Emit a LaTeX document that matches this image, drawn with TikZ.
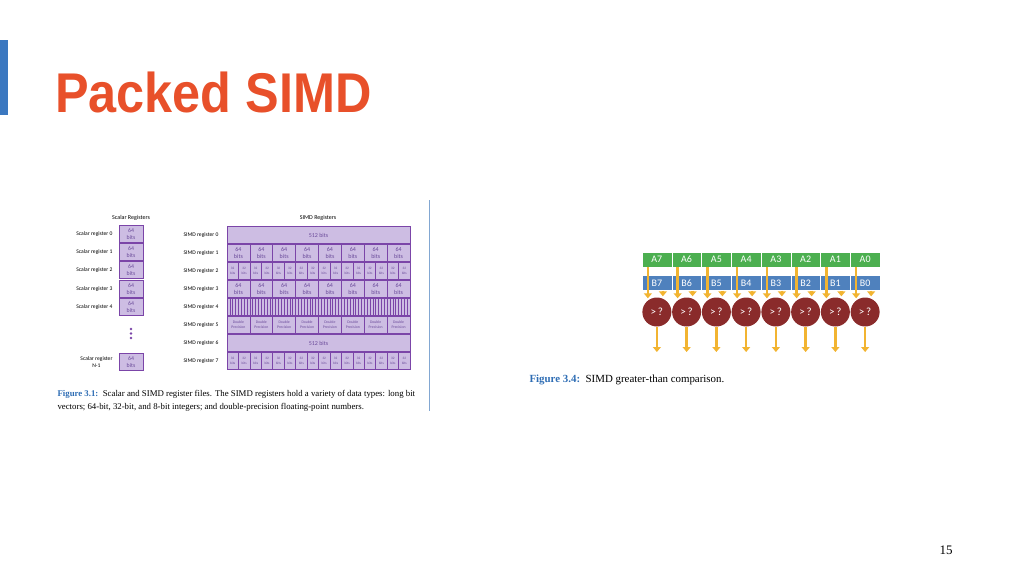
\documentclass[tikz,border=0pt]{standalone}
\usepackage{fontspec}
\setmainfont{Liberation Serif}
\newfontfamily\titlefont{Liberation Sans}
\newfontfamily\lab{Carlito}
\usetikzlibrary{arrows.meta}
\definecolor{ttl}{HTML}{E8502A}
\definecolor{bar}{HTML}{3B78C0}
\definecolor{pfill}{HTML}{CDBDE3}
\definecolor{pline}{HTML}{7B45A8}
\definecolor{ptext}{HTML}{6A4A9A}
\definecolor{agreen}{HTML}{4CAF50}
\definecolor{bblue}{HTML}{4F81BD}
\definecolor{cred}{HTML}{8A2B2B}
\definecolor{gold}{HTML}{F2B431}
\definecolor{capblue}{HTML}{2E6DB4}
\begin{document}
\begin{tikzpicture}[x=1pt,y=-1pt,
  reglab/.style={font=\lab\fontsize{5.6}{6.4}\selectfont,anchor=east,align=center},
  cell/.style={draw=pline,line width=0.6pt,fill=pfill,inner sep=0,outer sep=0,text=ptext,align=center,minimum height=17},
  acell/.style={draw=white,line width=0.4pt,fill=agreen,text=white,minimum width=29.75,minimum height=15,inner sep=0,font=\lab\fontsize{10}{10}\selectfont},
  bcell/.style={acell,fill=bblue},
  cmp/.style={circle,fill=cred,text=white,minimum size=29,inner sep=0,font=\lab\fontsize{11}{11}\selectfont},
  garrow/.style={draw=gold,line width=2.6pt,-{Triangle[length=5pt,width=8pt]}}]
\useasboundingbox (0,0) rectangle (1024,576);
\fill[bar] (0,40) rectangle (8,115);
\node[anchor=base west,text=ttl,font=\titlefont\bfseries\fontsize{56}{60}\selectfont,xscale=0.9,inner sep=0] (title) at (55,112) {Packed SIMD};
\node[font=\fontsize{13}{13}\selectfont] (pg) at (946,550) {15};
% left figure
\node[font=\lab\fontsize{6}{7}\selectfont] (st) at (131,218) {Scalar Registers};
\node[font=\lab\fontsize{6}{7}\selectfont] (mt) at (318,218) {SIMD Registers};
\foreach \i/\y in {0/234,1/252,2/270,3/289,4/307}{
  \node[reglab] (sl\i) at (116,\y) {Scalar register \i};
  \node[cell,minimum width=24,font=\lab\fontsize{5.8}{6.2}\selectfont] (sc\i) at (131,\y) {64\\bits};
}
\foreach \y in {329,333.5,338} \fill[pline] (131,\y) circle (1.3);
\node[reglab] (sln) at (116,362) {Scalar register\\N-1};
\node[cell,minimum width=24,font=\lab\fontsize{5.8}{6.2}\selectfont] (scn) at (131,362) {64\\bits};
\foreach \i/\y in {0/235,1/253,2/271,3/289,4/307,5/325,6/343,7/361}
  \node[reglab] (ml\i) at (222,\y) {SIMD register \i};
\node[cell,minimum width=183,font=\lab\fontsize{6}{7}\selectfont] (r0) at (318.5,235) {512 bits};
\node[cell,minimum width=183,font=\lab\fontsize{6}{7}\selectfont] (r6) at (318.5,343) {512 bits};
\foreach \k in {0,...,7}{
  \node[cell,minimum width=22.875,font=\lab\fontsize{6}{6.6}\selectfont] (ra\k) at ({227+22.875*(\k+0.5)},253) {64\\bits};
  \node[cell,minimum width=22.875,font=\lab\fontsize{6}{6.6}\selectfont] (rc\k) at ({227+22.875*(\k+0.5)},289) {64\\bits};
  \node[cell,minimum width=22.875,font=\lab\fontsize{3.8}{5}\selectfont] (rd\k) at ({227+22.875*(\k+0.5)},325) {Double\\Precision};
}
\foreach \k in {0,...,15}{
  \node[cell,minimum width=11.4375,font=\lab\fontsize{3.4}{4.4}\selectfont] (rb\k) at ({227+11.4375*(\k+0.5)},271) {32\\bits};
  \node[cell,minimum width=11.4375,font=\lab\fontsize{3.4}{4.4}\selectfont] (rf\k) at ({227+11.4375*(\k+0.5)},361) {32\\bits};
}
\foreach \k in {0,...,63}
  \node[cell,minimum width=2.859] (re\k) at ({227+2.859*(\k+0.5)},307) {};
\node[anchor=north west,align=left,font=\fontsize{8.8}{12.5}\selectfont] (cap1) at (54,387)
  {{\color{capblue}\bfseries Figure 3.1:}\ \ Scalar and SIMD register files. The SIMD registers hold a variety of data types: long bit\\vectors; 64-bit, 32-bit, and 8-bit integers; and double-precision floating-point numbers.};
\draw[capblue!60,line width=0.8pt] (429,200) -- (429,411);
% right figure
\foreach \k in {0,...,7}{
  \pgfmathtruncatemacro{\n}{7-\k}
  \node[acell] (a\k) at ({642+29.75*(\k+0.5)},259.5) {A\n};
  \node[bcell] (b\k) at ({642+29.75*(\k+0.5)},283) {B\n};
  \node[cmp] (c\k) at ({642+29.75*(\k+0.5)},312) {>\,?};
  \coordinate (o\k) at ({642+29.75*(\k+0.5)},352);
  \draw[garrow] (c\k.south) -- (o\k);
}
\foreach \k in {0,...,7}{
  \draw[garrow] ([xshift=-9pt]a\k.south) -- ([xshift=-9pt,yshift=-1pt]a\k.south |- c\k.north);
  \draw[garrow] ([xshift=6pt]b\k.south) -- ([xshift=6pt,yshift=1pt]b\k.south |- c\k.north);
}
\node[anchor=west,font=\fontsize{10.9}{12}\selectfont] (cap4) at (526,380) {{\color{capblue}\bfseries Figure 3.4:}\ \ SIMD greater-than comparison.};
\end{tikzpicture}
\end{document}
